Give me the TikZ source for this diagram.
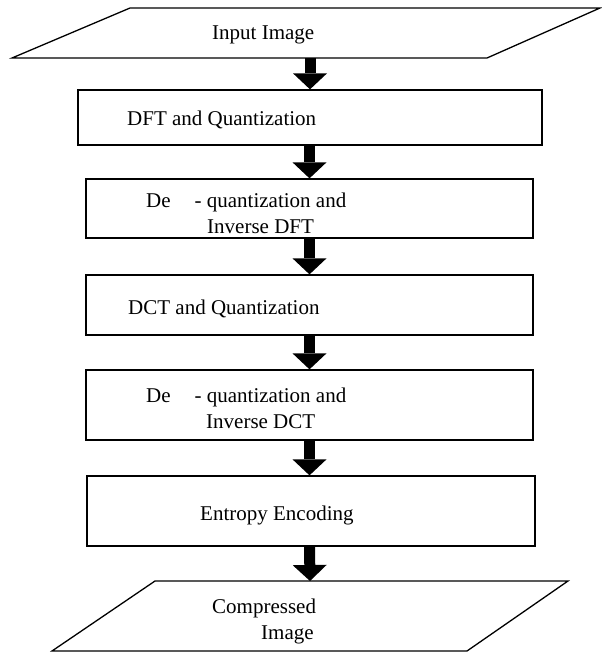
\documentclass[tikz,border=0pt]{standalone}
\usepackage{fontspec}
\setmainfont{Liberation Serif}
\usepackage{tikz}
\usetikzlibrary{arrows.meta,positioning}

\begin{document}
\begin{tikzpicture}[
    x = 1pt, y = -1pt,
    font = \fontsize{21}{26}\selectfont,
    box/.style = {rectangle, draw, line width=1.3pt, inner sep=0pt},
    iobox/.style = {draw, line width=1.3pt, line join=miter},
    txt/.style = {inner sep=0pt, align=left},
    blk/.style = {line width=11pt, -{Triangle[width=34pt,length=16pt,line width=0pt]}}
]
\useasboundingbox (0,0) rectangle (602,654);

% Input
\draw[iobox] (12,58) -- (130,8) -- (600,8) -- (487,58) -- cycle;
\coordinate (inimg) at (310,58);
\node[txt, anchor=base west] (inimg-t) at (212,39) {Input Image};

% Processing steps
\node[box, minimum width=464pt, minimum height=55pt] (dft) at (310,117.5) {};
\node[txt, anchor=base west] (dft-t) at (127,125) {DFT and Quantization};

\node[box, minimum width=447pt, minimum height=59pt] (idft) at (309.5,208.5) {};
\node[txt, anchor=west] (idft-t) at (146,213) {De\hspace{24pt}- quantization and\\\hspace*{61pt}Inverse DFT};

\node[box, minimum width=447pt, minimum height=60pt] (dct) at (309.5,305) {};
\node[txt, anchor=base west] (dct-t) at (128,314) {DCT and Quantization};

\node[box, minimum width=447pt, minimum height=70pt] (idct) at (309.5,405) {};
\node[txt, anchor=west] (idct-t) at (146,408) {De\hspace{24pt}- quantization and\\\hspace*{60pt}Inverse DCT};

\node[box, minimum width=448pt, minimum height=70pt] (entropy) at (311,511) {};
\node[txt, anchor=base west] (entropy-t) at (200,520) {Entropy Encoding};

% Output
\draw[iobox] (52,651) -- (155,581) -- (568,581) -- (467,651) -- cycle;
\coordinate (compimg) at (310,581);
\node[txt, anchor=west] (compimg-t) at (212,621) {Compressed\\\hspace*{49pt}Image};

% Arrows
\draw[blk] (inimg) -- (inimg |- dft.north);
\draw[blk] (dft.south -| idft.north) -- (idft.north);
\draw[blk] (idft) -- (dct);
\draw[blk] (dct) -- (idct);
\draw[blk] (idct.south) -- (idct.south |- entropy.north);
\draw[blk] (entropy.south -| idct.south) -- (compimg);

\end{tikzpicture}
\end{document}
